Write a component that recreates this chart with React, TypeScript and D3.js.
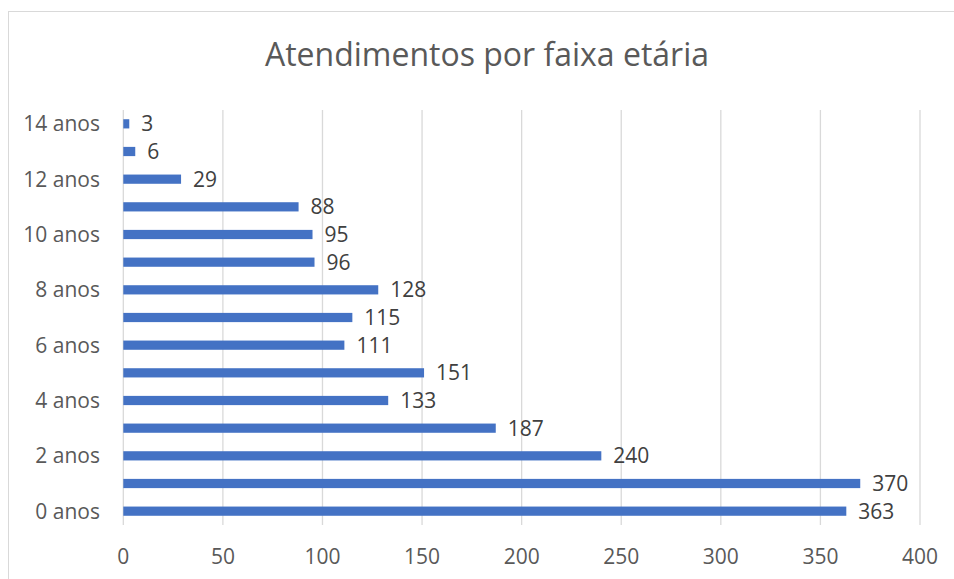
import React, { useEffect, useRef } from "react";
import * as d3 from "d3";

const categories = [
  "0 anos", "1 anos", "2 anos", "3 anos", "4 anos", "5 anos", "6 anos", "7 anos",
  "8 anos", "9 anos", "10 anos", "11 anos", "12 anos", "13 anos", "14 anos",
];
const values = [363, 370, 240, 187, 133, 151, 111, 115, 128, 96, 95, 88, 29, 6, 3];
const xTicks = [0, 50, 100, 150, 200, 250, 300, 350, 400];
const title = "Atendimentos por faixa etária";

const W = 954;
const H = 579;
const FONT = "'Open Sans', sans-serif";
const TEXT = "#595959";
const GRID = "#d9d9d9";
const BAR = "#4472c4";

export default function App() {
  const ref = useRef<SVGSVGElement>(null);

  useEffect(() => {
    const svg = d3.select(ref.current);
    svg.selectAll("*").remove();

    const margin = { top: 110, right: 34, bottom: 54, left: 123.3 };
    const x = d3.scaleLinear().domain([0, 400]).range([margin.left, W - margin.right]);
    const y = d3
      .scaleBand()
      .domain(categories)
      .range([H - margin.bottom, margin.top])
      .paddingInner(2 / 3)
      .paddingOuter(1 / 3);

    // chart border (cut off at right and bottom like the screenshot)
    svg
      .append("rect")
      .attr("x", 8.5)
      .attr("y", 11.5)
      .attr("width", W + 10)
      .attr("height", H + 10)
      .attr("fill", "white")
      .attr("stroke", GRID);

    svg
      .append("text")
      .attr("x", 487)
      .attr("y", 66)
      .attr("text-anchor", "middle")
      .attr("font-family", FONT)
      .attr("font-size", 32)
      .attr("fill", TEXT)
      .text(title);

    // vertical gridlines
    svg
      .append("g")
      .selectAll("line")
      .data(xTicks)
      .join("line")
      .attr("x1", (d) => x(d))
      .attr("x2", (d) => x(d))
      .attr("y1", margin.top)
      .attr("y2", H - margin.bottom)
      .attr("stroke", GRID)
      .attr("stroke-width", 1.3);

    // x labels
    svg
      .append("g")
      .selectAll("text")
      .data(xTicks)
      .join("text")
      .attr("x", (d) => x(d))
      .attr("y", 564)
      .attr("text-anchor", "middle")
      .attr("font-family", FONT)
      .attr("font-size", 21)
      .attr("fill", TEXT)
      .text((d) => d);

    // category labels (every other)
    svg
      .append("g")
      .selectAll("text")
      .data(categories.filter((_, i) => i % 2 === 0))
      .join("text")
      .attr("x", 100)
      .attr("y", (d) => y(d)! + y.bandwidth() / 2)
      .attr("dy", "0.36em")
      .attr("text-anchor", "end")
      .attr("font-family", FONT)
      .attr("font-size", 21)
      .attr("fill", TEXT)
      .text((d) => d);

    const data = categories.map((c, i) => ({ c, v: values[i] }));

    svg
      .append("g")
      .selectAll("rect")
      .data(data)
      .join("rect")
      .attr("x", x(0))
      .attr("y", (d) => y(d.c)!)
      .attr("width", (d) => x(d.v) - x(0))
      .attr("height", y.bandwidth())
      .attr("fill", BAR);

    svg
      .append("g")
      .selectAll("text")
      .data(data)
      .join("text")
      .attr("x", (d) => x(d.v) + 12)
      .attr("y", (d) => y(d.c)! + y.bandwidth() / 2)
      .attr("dy", "0.36em")
      .attr("font-family", FONT)
      .attr("font-size", 21)
      .attr("fill", "#404040")
      .text((d) => d.v);
  }, []);

  return (
    <svg
      ref={ref}
      width={W}
      height={H}
      style={{ position: "absolute", left: 0, top: 0, background: "white" }}
    />
  );
}
